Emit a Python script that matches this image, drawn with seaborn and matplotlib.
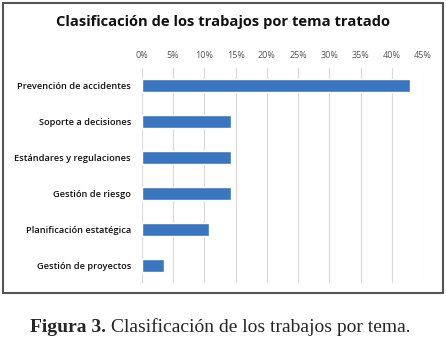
import pandas as pd
import matplotlib.pyplot as plt
import seaborn as sns
from matplotlib.patches import Rectangle
from matplotlib.ticker import PercentFormatter

temas = ['Prevención de accidentes', 'Soporte a decisiones', 'Estándares y regulaciones',
         'Gestión de riesgo', 'Planificación estatégica', 'Gestión de proyectos']
porcentaje = [42.9, 14.3, 14.3, 14.3, 10.7, 3.6]
ticks = [0, 5, 10, 15, 20, 25, 30, 35, 40, 45]

df = pd.DataFrame({'tema': temas, 'pct': porcentaje})

sns.set_style('white')
plt.rcParams['font.family'] = ['Open Sans', 'DejaVu Sans']

W, H = 446, 346
fig = plt.figure(figsize=(W / 100, H / 100), dpi=100)

# frame around the chart
fig.patches.append(Rectangle((3 / W, 1 - 293 / H), 440 / W, 290 / H, transform=fig.transFigure,
                             fill=False, edgecolor='#555555', linewidth=1.5))

ax = fig.add_axes([142 / W, 1 - 283 / H, 281 / W, 215 / H])
sns.barplot(data=df, x='pct', y='tema', orient='h', color='#3a76c0', saturation=1,
            width=0.36, ax=ax)

ax.set_xlim(0, 45)
ax.set_xticks(ticks)
ax.xaxis.set_major_formatter(PercentFormatter(decimals=0))
ax.xaxis.tick_top()
ax.tick_params(axis='x', length=0, pad=6, labelsize=6.5, labelcolor='#555555')
ax.tick_params(axis='y', length=0, pad=8, labelsize=6.7, labelcolor='#111111')
for lbl in ax.get_yticklabels():
    lbl.set_fontweight('semibold')
ax.set_xlabel('')
ax.set_ylabel('')
ax.grid(axis='x', color='#d9d9d9', linewidth=0.8)
ax.set_axisbelow(True)
for s in ax.spines.values():
    s.set_visible(False)

fig.text(223 / W, 1 - 22 / H, 'Clasificación de los trabajos por tema tratado',
         ha='center', va='center', fontsize=10.6, fontweight='bold', color='#111111')

cap1 = fig.text(30 / W, 1 - 327 / H, 'Figura 3.', ha='left', va='center', fontsize=14,
                fontweight='bold', family='Liberation Serif')
fig.canvas.draw()
x_end = cap1.get_window_extent().x1
fig.text((x_end + 5) / W, 1 - 327 / H, 'Clasificación de los trabajos por tema.', ha='left',
         va='center', fontsize=14, family='Liberation Serif')

fig.savefig('out.png', dpi=100)
